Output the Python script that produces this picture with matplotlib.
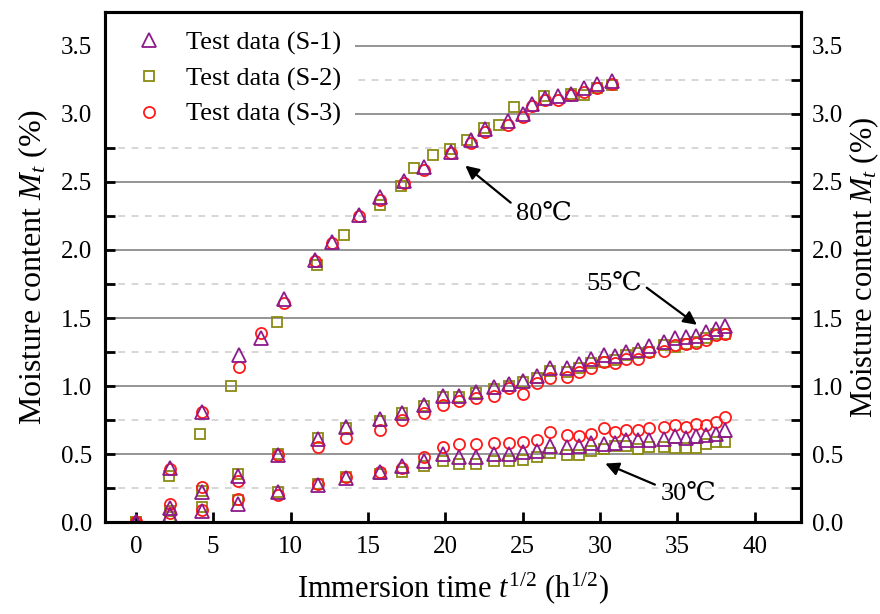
import numpy as np
import matplotlib
matplotlib.use('Agg')
from matplotlib import pyplot as plt
from matplotlib.patches import Rectangle
from matplotlib.ticker import MultipleLocator

plt.rcParams['font.family'] = ['Liberation Serif', 'DejaVu Serif', 'Noto Sans CJK SC']
plt.rcParams['mathtext.fontset'] = 'custom'
plt.rcParams['mathtext.rm'] = 'Liberation Serif'
plt.rcParams['mathtext.it'] = 'Liberation Serif:italic'

## donnees

# 80 C : S-1 et S-3 partagent les memes temps
x80 = [0, 2.2, 4.25, 6.65, 8.08, 9.58, 11.6, 12.7, 14.4, 15.8, 17.35, 18.65, 20.35, 21.65,
       22.6, 24.05, 25.0, 25.6, 26.45, 27.3, 28.1, 29.0, 29.8, 30.75]
m80_s1 = [0, 0.40, 0.81, 1.23, 1.35, 1.64, 1.93, 2.06, 2.26, 2.39, 2.51, 2.61, 2.72, 2.81,
          2.89, 2.95, 3.00, 3.07, 3.12, 3.13, 3.15, 3.19, 3.22, 3.24]
m80_s3 = [0, 0.39, 0.81, 1.14, 1.39, 1.61, 1.92, 2.05, 2.25, 2.37, 2.49, 2.59, 2.71, 2.79,
          2.87, 2.92, 2.98, 3.06, 3.10, 3.10, 3.14, 3.16, 3.19, 3.22]
x80_s2 = [0, 2.15, 4.15, 6.15, 9.1, 11.7, 13.45, 15.75, 17.15, 17.95, 19.2, 20.3, 21.4, 22.5,
          23.45, 24.45, 26.4, 28.1, 29.0, 29.8, 30.8]
m80_s2 = [0, 0.34, 0.65, 1.00, 1.47, 1.89, 2.11, 2.33, 2.47, 2.60, 2.70, 2.74, 2.81, 2.90,
          2.92, 3.05, 3.13, 3.15, 3.14, 3.19, 3.21]

# 55 C et 30 C
xlow = [0, 2.2, 4.25, 6.6, 9.2, 11.8, 13.6, 15.8, 17.2, 18.6, 19.85, 20.9, 22.0, 23.15, 24.15,
        25.0, 25.95, 26.8, 27.85, 28.65, 29.45, 30.25, 30.95, 31.7, 32.45, 33.2, 34.15, 34.85,
        35.55, 36.2, 36.85, 37.5, 38.1]
m55_s1 = [0, 0.10, 0.22, 0.34, 0.49, 0.61, 0.70, 0.757, 0.805, 0.86, 0.93, 0.93, 0.957, 0.99,
          1.013, 1.04, 1.074, 1.13, 1.13, 1.16, 1.196, 1.228, 1.22, 1.25, 1.265, 1.294, 1.325,
          1.35, 1.36, 1.367, 1.40, 1.416, 1.44]
m55_s2 = [0, 0.08, 0.23, 0.35, 0.50, 0.62, 0.69, 0.745, 0.80, 0.85, 0.92, 0.92, 0.95, 0.98,
          1.0, 1.03, 1.06, 1.11, 1.10, 1.13, 1.17, 1.18, 1.19, 1.23, 1.24, 1.25, 1.30, 1.29,
          1.31, 1.32, 1.35, 1.38, 1.38]
m55_s3 = [0, 0.13, 0.255, 0.30, 0.495, 0.55, 0.62, 0.678, 0.75, 0.80, 0.86, 0.89, 0.91, 0.93,
          0.984, 0.94, 1.02, 1.06, 1.065, 1.105, 1.13, 1.177, 1.167, 1.196, 1.20, 1.25, 1.26,
          1.30, 1.31, 1.316, 1.34, 1.375, 1.38]
m30_s1 = [0, 0.05, 0.08, 0.133, 0.218, 0.27, 0.324, 0.365, 0.41, 0.45, 0.50, 0.475, 0.475,
          0.50, 0.50, 0.517, 0.524, 0.556, 0.55, 0.556, 0.578, 0.57, 0.58, 0.60, 0.60, 0.605,
          0.61, 0.634, 0.62, 0.63, 0.64, 0.65, 0.675]
m30_s2 = [0, 0.04, 0.11, 0.163, 0.22, 0.28, 0.33, 0.355, 0.37, 0.41, 0.45, 0.43, 0.43, 0.45,
          0.45, 0.455, 0.475, 0.505, 0.495, 0.495, 0.52, 0.537, 0.56, 0.556, 0.537, 0.55, 0.55,
          0.545, 0.545, 0.545, 0.57, 0.585, 0.59]
m30_s3 = [0, 0.07, 0.09, 0.17, 0.20, 0.28, 0.33, 0.37, 0.40, 0.475, 0.55, 0.57, 0.57, 0.58,
          0.58, 0.585, 0.60, 0.66, 0.64, 0.634, 0.65, 0.69, 0.66, 0.675, 0.675, 0.69, 0.695,
          0.71, 0.70, 0.72, 0.715, 0.735, 0.77]

labels = ['Test data (S-1)', 'Test data (S-2)', 'Test data (S-3)']

## figure

fig = plt.figure(figsize=(8.8, 6.14), dpi=100)
ax = fig.add_axes([0.1193, 0.1498, 0.7909, 0.8307])
ax.set_axisbelow(True)

tri = dict(marker='^', ms=10, mfc='none', mec='#8B1A8B', mew=1.3, ls='none', zorder=3)
sq = dict(marker='s', ms=7, mfc='none', mec='#8A8A12', mew=1.3, ls='none', zorder=2.8)
circ = dict(marker='o', ms=8, mfc='none', mec='#FF1A1A', mew=1.3, ls='none', zorder=2.9)

ax.plot(x80_s2, m80_s2, **sq)
ax.plot(xlow, m55_s2, **sq)
ax.plot(xlow, m30_s2, **sq)
ax.plot(x80, m80_s3, **circ)
ax.plot(xlow, m55_s3, **circ)
ax.plot(xlow, m30_s3, **circ)
h1, = ax.plot(x80, m80_s1, **tri)
ax.plot(xlow, m55_s1, **tri)
ax.plot(xlow, m30_s1, **tri)
h2, = ax.plot([], [], **sq)
h3, = ax.plot([], [], **circ)

ax.set_xlim(-2, 43)
ax.set_ylim(0, 3.75)
ax.xaxis.set_major_locator(MultipleLocator(5))
ax.yaxis.set_major_locator(MultipleLocator(0.5))
ax.yaxis.set_minor_locator(MultipleLocator(0.25))
ax.yaxis.set_major_formatter(matplotlib.ticker.FormatStrFormatter('%.1f'))

ax.grid(True, which='major', axis='y', color='#8c8c8c', lw=1.3)
ax.grid(True, which='minor', axis='y', color='#d0d0d0', lw=1.2, ls=(0, (4, 4)))

for s in ax.spines.values():
    s.set_linewidth(2.2)
ax.tick_params(axis='both', which='both', direction='in', length=7, width=2, labelsize=18)
ax.tick_params(axis='x', pad=10, top=False)
ax.tick_params(axis='y', pad=9)

ax2 = ax.twinx()
ax2.set_ylim(0, 3.75)
ax2.yaxis.set_major_locator(MultipleLocator(0.5))
ax2.yaxis.set_minor_locator(MultipleLocator(0.25))
ax2.yaxis.set_major_formatter(matplotlib.ticker.FormatStrFormatter('%.1f'))
ax2.tick_params(axis='y', which='both', direction='in', length=7, width=2, labelsize=18, pad=8)
for s in ax2.spines.values():
    s.set_linewidth(2.2)

ax.set_xlabel('Immersion time $t^{\\mathrm{1/2}}$ (h$^{\\mathrm{1/2}}$)', fontsize=22, labelpad=9)
ax.set_ylabel('Moisture content $M_t$ (%)', fontsize=23, labelpad=8)
ax2.set_ylabel('Moisture content $M_t$ (%)', fontsize=22, labelpad=3)

# fond blanc derriere la legende
ax.add_patch(Rectangle((0, 0.759), 0.359, 0.241, transform=ax.transAxes,
                       facecolor='white', edgecolor='none', zorder=1))
ax.legend([h1, h2, h3], labels, loc='upper left', bbox_to_anchor=(0.045, 0.963),
          frameon=False, fontsize=19, handlelength=1.0, handletextpad=0.9,
          labelspacing=0.45, borderpad=0, borderaxespad=0)

arr = dict(arrowstyle='-|>', color='black', lw=1.6, mutation_scale=20, shrinkA=2, shrinkB=0)
ax.annotate('80℃', xy=(21.3, 2.62), xytext=(24.55, 2.27), fontsize=19, ha='left', va='center',
            arrowprops=dict(relpos=(0, 0.8), **arr))
ax.annotate('55℃', xy=(36.27, 1.45), xytext=(29.1, 1.75), fontsize=19, ha='left', va='center',
            arrowprops=dict(relpos=(1, 0.5), **arr))
ax.annotate('30℃', xy=(30.35, 0.43), xytext=(33.9, 0.21), fontsize=19, ha='left', va='center',
            arrowprops=dict(relpos=(0, 0.8), **arr))

plt.savefig('out.png', dpi=100)
